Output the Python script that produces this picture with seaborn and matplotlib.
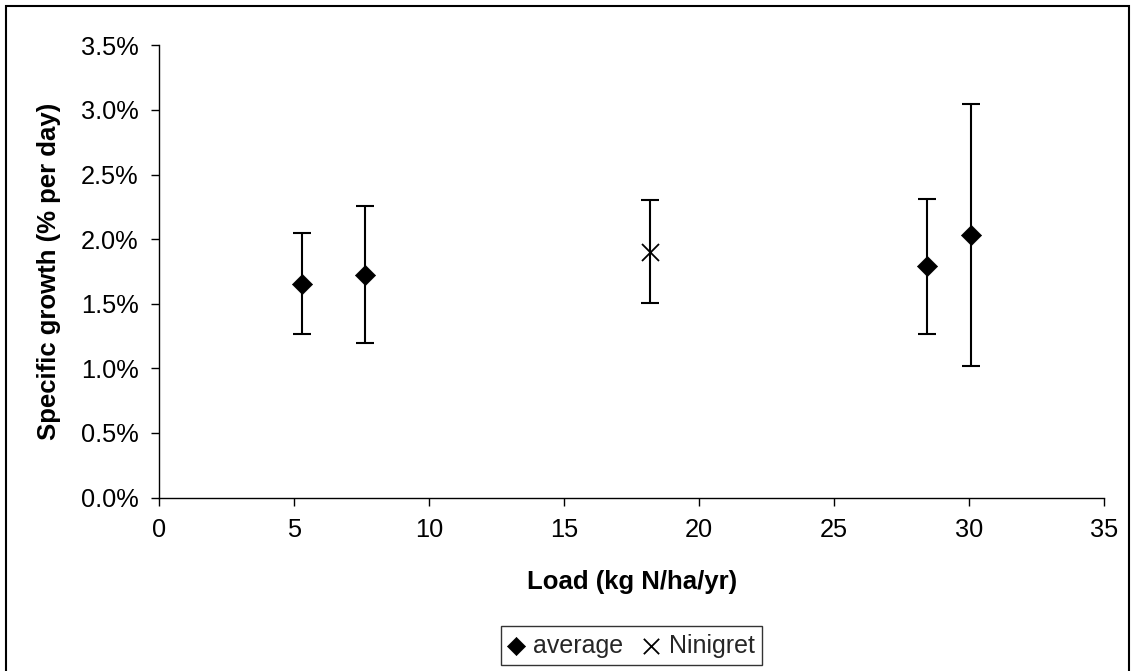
import matplotlib
matplotlib.use("Agg")
import matplotlib.pyplot as plt
import matplotlib.patches as patches
from matplotlib.ticker import FuncFormatter, MultipleLocator
import seaborn as sns
import pandas as pd

# Nitrogen load (kg N/ha/yr) and specific growth (% per day)
avg_load = [5.28, 7.63, 28.44, 30.09]
avg_growth = [1.654, 1.724, 1.788, 2.028]
avg_err = [0.392, 0.530, 0.523, 1.014]

nin_load = [18.17]
nin_growth = [1.904]
nin_err = [0.400]

x_ticks = [0, 5, 10, 15, 20, 25, 30, 35]

sns.set_theme(style="ticks")
plt.rcParams["font.family"] = ["Liberation Sans", "DejaVu Sans"]

fig = plt.figure(figsize=(11.35, 6.71), dpi=100)
ax = fig.add_axes([159.3 / 1135, 1 - 497.5 / 671, (1104 - 159.3) / 1135, (497.5 - 45.3) / 671])

df_avg = pd.DataFrame({"load": avg_load, "growth": avg_growth, "err": avg_err})
df_nin = pd.DataFrame({"load": nin_load, "growth": nin_growth, "err": nin_err})

# error bars
ax.errorbar(df_avg["load"], df_avg["growth"], yerr=df_avg["err"], fmt="none",
            ecolor="black", elinewidth=1.5, capsize=6.5, capthick=1.5, zorder=2)
ax.errorbar(df_nin["load"], df_nin["growth"], yerr=df_nin["err"], fmt="none",
            ecolor="black", elinewidth=1.5, capsize=6.5, capthick=1.5, zorder=2)

# markers
sns.scatterplot(data=df_avg, x="load", y="growth", marker="D", s=105, color="black",
                edgecolor="black", linewidth=0.5, ax=ax, label="average", zorder=3)
sns.scatterplot(data=df_nin, x="load", y="growth", marker="x", s=150, color="black",
                linewidth=1.3, ax=ax, label="Ninigret", zorder=3)

ax.set_xlim(0, 35)
ax.set_ylim(0, 3.5)
ax.set_xticks(x_ticks)
ax.yaxis.set_major_locator(MultipleLocator(0.5))
ax.yaxis.set_major_formatter(FuncFormatter(lambda v, _: f"{v:.1f}%"))

for side in ["top", "right"]:
    ax.spines[side].set_visible(False)
for side in ["left", "bottom"]:
    ax.spines[side].set_color("black")
    ax.spines[side].set_linewidth(1.0)

ax.tick_params(axis="both", direction="out", length=6, width=1, color="black",
               labelsize=18.3, labelcolor="black", pad=9)

ax.set_xlabel("Load (kg N/ha/yr)", fontsize=18.5, fontweight="bold", color="black")
ax.set_ylabel("Specific growth (% per day)", fontsize=18.5, fontweight="bold", color="black")
ax.xaxis.set_label_coords(0.5, -0.16)
ax.yaxis.set_label_coords(-0.104, 0.5)

leg = ax.legend(loc="center", bbox_to_anchor=(631.5 / 1135, 1 - 645.7 / 671),
                bbox_transform=fig.transFigure, ncol=2, frameon=True, fancybox=False,
                edgecolor="black", fontsize=18, handlelength=0.6, handletextpad=0.4,
                columnspacing=0.8, borderpad=0.3, markerscale=0.9)
leg.get_frame().set_linewidth(1.0)

# outer chart border
fig.patches.append(patches.Rectangle((6 / 1135, -0.02), (1129 - 6) / 1135, 1.02 - 6 / 671,
                                     transform=fig.transFigure, fill=False,
                                     edgecolor="black", linewidth=1.5, clip_on=False))

fig.savefig("out.png", dpi=100, facecolor="white")
